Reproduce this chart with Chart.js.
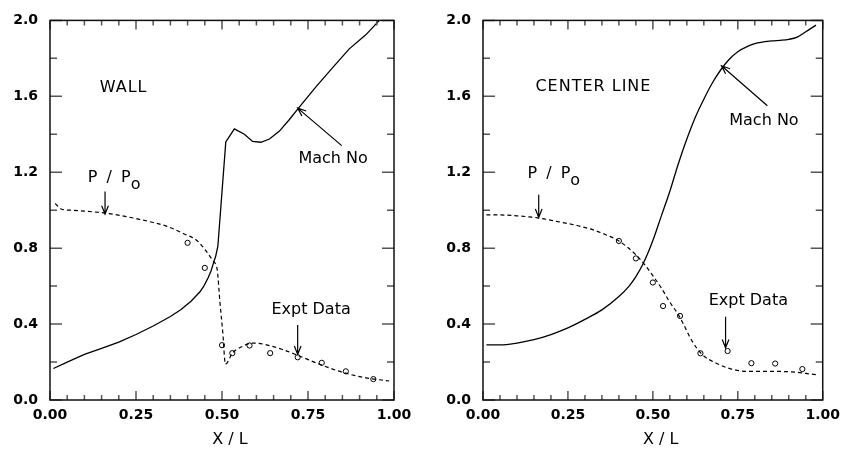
<!DOCTYPE html>
<html>
<head>
<meta charset="utf-8">
<script src="https://cdn.jsdelivr.net/npm/chart.js@4.4.1/dist/chart.umd.min.js"></script>
<style>
html, body { margin: 0; padding: 0; background: #fff; }
#wrap { position: relative; width: 847px; height: 452px; }
#wrap canvas { position: absolute; top: 0; }
#wall { left: 0; }
#center { left: 420px; }
</style>
</head>
<body>
<div id="wrap">
  <canvas id="wall" width="420" height="452"></canvas>
  <canvas id="center" width="427" height="452"></canvas>
</div>
<script>
// measured stations (same x for both traverses)
const exptX = [0.40, 0.45, 0.50, 0.53, 0.58, 0.64, 0.72, 0.79, 0.86, 0.94];
const wallExptY = [0.828, 0.696, 0.289, 0.247, 0.287, 0.247, 0.225, 0.196, 0.151, 0.110];
const centerExptY = [0.838, 0.746, 0.619, 0.495, 0.443, 0.246, 0.258, 0.194, 0.192, 0.163];

// wall: computed Mach number and pressure ratio
const wallMachX = [0.01, 0.05, 0.10, 0.15, 0.20, 0.25, 0.30, 0.35, 0.38, 0.41, 0.436, 0.448, 0.46, 0.468, 0.475,
  0.482, 0.488, 0.511, 0.536, 0.565, 0.589, 0.613, 0.638, 0.667, 0.696, 0.72, 0.773, 0.821, 0.87, 0.918, 0.96];
const wallMachY = [0.166, 0.20, 0.24, 0.272, 0.305, 0.345, 0.39, 0.44, 0.475, 0.52, 0.57, 0.603, 0.645, 0.68, 0.72,
  0.76, 0.81, 1.36, 1.428, 1.40, 1.362, 1.358, 1.375, 1.417, 1.478, 1.533, 1.65, 1.75, 1.85, 1.924, 2.005];
const wallPressX = [0.015, 0.034, 0.06, 0.10, 0.16, 0.21, 0.26, 0.30, 0.34, 0.39, 0.426, 0.455, 0.475, 0.486,
  0.494, 0.502, 0.51, 0.531, 0.56, 0.589, 0.618, 0.676, 0.725, 0.783, 0.85, 0.918, 0.986];
const wallPressY = [1.035, 1.005, 1.0, 0.995, 0.985, 0.97, 0.952, 0.935, 0.915, 0.875, 0.842, 0.782, 0.73, 0.687,
  0.515, 0.361, 0.189, 0.249, 0.283, 0.30, 0.295, 0.266, 0.232, 0.189, 0.146, 0.117, 0.10];

// center line: computed Mach number and pressure ratio
const centerMachX = [0.01, 0.05, 0.10, 0.15, 0.20, 0.25, 0.30, 0.35, 0.40, 0.43, 0.45, 0.472, 0.50, 0.525, 0.55,
  0.575, 0.60, 0.625, 0.65, 0.675, 0.70, 0.725, 0.75, 0.78, 0.80, 0.85, 0.875, 0.90, 0.925, 0.95, 0.98];
const centerMachY = [0.29, 0.29, 0.30, 0.318, 0.345, 0.38, 0.425, 0.475, 0.545, 0.60, 0.65, 0.72, 0.84, 0.97, 1.10,
  1.245, 1.375, 1.49, 1.585, 1.67, 1.74, 1.795, 1.835, 1.864, 1.878, 1.892, 1.895, 1.90, 1.912, 1.94, 1.975];
const centerPressX = [0.01, 0.05, 0.10, 0.16, 0.22, 0.28, 0.33, 0.36, 0.40, 0.425, 0.45, 0.475, 0.50, 0.525, 0.55,
  0.575, 0.59, 0.616, 0.645, 0.683, 0.731, 0.78, 0.856, 0.923, 0.95, 0.985];
const centerPressY = [0.975, 0.975, 0.97, 0.96, 0.94, 0.918, 0.893, 0.872, 0.838, 0.805, 0.765, 0.715, 0.655, 0.59, 0.515,
  0.45, 0.40, 0.309, 0.24, 0.197, 0.163, 0.151, 0.151, 0.146, 0.14, 0.132];

const xTicks = [0, 0.25, 0.5, 0.75, 1.0];
const yTicks = [0, 0.4, 0.8, 1.2, 1.6, 2.0];

const FONT = '"DejaVu Sans", sans-serif';

function pts(xs, ys) {
  return xs.map((x, i) => ({ x: x, y: ys[i] }));
}

function arrow(ctx, x1, y1, x2, y2) {
  const a = Math.atan2(y2 - y1, x2 - x1);
  const h = 9, s = 0.38;
  ctx.beginPath();
  ctx.moveTo(x1, y1);
  ctx.lineTo(x2, y2);
  ctx.moveTo(x2 - h * Math.cos(a - s), y2 - h * Math.sin(a - s));
  ctx.lineTo(x2, y2);
  ctx.lineTo(x2 - h * Math.cos(a + s), y2 - h * Math.sin(a + s));
  ctx.stroke();
}

// box, inward ticks, captions and pointers
const framePlugin = {
  id: 'frame',
  afterDatasetsDraw(chart, args, opts) {
    const { ctx, chartArea: a } = chart;
    const xs = chart.scales.x, ys = chart.scales.y;
    ctx.save();
    ctx.strokeStyle = '#555';
    ctx.lineWidth = 1.5;
    ctx.beginPath();
    for (let i = 0; i <= 10; i++) {
      const py = ys.getPixelForValue(i * 0.2);
      const len = i % 2 === 0 ? 12 : 7;
      ctx.moveTo(a.left, py); ctx.lineTo(a.left + len, py);
      ctx.moveTo(a.right, py); ctx.lineTo(a.right - len, py);
    }
    for (let i = 0; i <= 20; i++) {
      const px = xs.getPixelForValue(i * 0.05);
      const len = i % 5 === 0 ? 9 : 5;
      ctx.moveTo(px, a.bottom); ctx.lineTo(px, a.bottom - len);
      ctx.moveTo(px, a.top); ctx.lineTo(px, a.top + len);
    }
    ctx.stroke();
    ctx.strokeStyle = '#111';
    ctx.strokeRect(a.left, a.top, a.right - a.left, a.bottom - a.top);

    ctx.fillStyle = '#000';
    ctx.font = '16px ' + FONT;
    ctx.textBaseline = 'middle';
    ctx.textAlign = 'center';
    for (const t of opts.texts) {
      ctx.letterSpacing = (t.spacing || 0) + 'px';
      ctx.fillText(t.text, xs.getPixelForValue(t.x), ys.getPixelForValue(t.y));
    }
    // P / Po with subscript
    const px = xs.getPixelForValue(opts.ratio.x), py = ys.getPixelForValue(opts.ratio.y);
    ctx.textAlign = 'left';
    ctx.letterSpacing = '2px';
    ctx.fillText('P / P', px, py);
    const w = ctx.measureText('P / P').width;
    ctx.letterSpacing = '0px';
    ctx.fillText('o', px + w - 2, py + 7);

    ctx.strokeStyle = '#000';
    ctx.lineWidth = 1.2;
    for (const r of opts.arrows) {
      arrow(ctx, xs.getPixelForValue(r[0]), ys.getPixelForValue(r[1]),
        xs.getPixelForValue(r[2]), ys.getPixelForValue(r[3]));
    }

    // axis title
    ctx.textAlign = 'center';
    ctx.fillText('X / L', xs.getPixelForValue(0.523), 440);
    ctx.restore();
  }
};

function makePanel(id, machX, machY, pressX, pressY, exptY, yWidth, padRight, machSmooth, notes) {
  new Chart(document.getElementById(id), {
    type: 'line',
    data: {
      datasets: [
        {
          data: pts(machX, machY),
          borderColor: '#000',
          borderWidth: 1.3,
          pointRadius: 0,
          tension: 0,
          cubicInterpolationMode: machSmooth ? 'monotone' : 'default'
        },
        {
          data: pts(pressX, pressY),
          borderColor: '#000',
          borderWidth: 1.2,
          borderDash: [4, 3],
          pointRadius: 0,
          cubicInterpolationMode: 'monotone'
        },
        {
          data: pts(exptX, exptY),
          showLine: false,
          pointStyle: 'circle',
          pointRadius: 2.6,
          pointBorderWidth: 1,
          pointBorderColor: '#000',
          pointBackgroundColor: 'rgba(0,0,0,0)'
        }
      ]
    },
    options: {
      responsive: false,
      animation: false,
      events: [],
      layout: { padding: { top: 12, right: padRight, left: 0, bottom: 0 } },
      scales: {
        x: {
          type: 'linear',
          min: 0,
          max: 1,
          afterBuildTicks: s => { s.ticks = xTicks.map(v => ({ value: v })); },
          afterFit: s => { s.height = 52; },
          grid: { display: false, drawTicks: false },
          border: { display: false },
          ticks: {
            color: '#000',
            padding: 7,
            maxRotation: 0,
            autoSkip: false,
            font: { family: FONT, size: 14, weight: 'bold' },
            callback: v => Number(v).toFixed(2)
          }
        },
        y: {
          type: 'linear',
          min: 0,
          max: 2,
          afterBuildTicks: s => { s.ticks = yTicks.map(v => ({ value: v })); },
          afterFit: s => { s.width = yWidth; },
          grid: { display: false, drawTicks: false },
          border: { display: false },
          ticks: {
            color: '#000',
            padding: 12,
            autoSkip: false,
            font: { family: FONT, size: 14, weight: 'bold' },
            callback: v => Number(v).toFixed(1)
          }
        }
      },
      plugins: {
        legend: { display: false },
        tooltip: { enabled: false },
        frame: notes
      }
    },
    plugins: [framePlugin]
  });
}

makePanel('wall', wallMachX, wallMachY, wallPressX, wallPressY, wallExptY, 50, 26, false, {
  texts: [
    { text: 'WALL', x: 0.214, y: 1.647, spacing: 1 },
    { text: 'Mach No', x: 0.823, y: 1.27 },
    { text: 'Expt Data', x: 0.759, y: 0.474 }
  ],
  ratio: { x: 0.11, y: 1.168 },
  arrows: [
    [0.16, 1.098, 0.16, 0.979],
    [0.848, 1.34, 0.72, 1.538],
    [0.72, 0.395, 0.72, 0.24]
  ]
});

makePanel('center', centerMachX, centerMachY, centerPressX, centerPressY, centerExptY, 63, 17, true, {
  texts: [
    { text: 'CENTER LINE', x: 0.325, y: 1.65, spacing: 1 },
    { text: 'Mach No', x: 0.827, y: 1.469 },
    { text: 'Expt Data', x: 0.781, y: 0.522 }
  ],
  ratio: { x: 0.131, y: 1.19 },
  arrows: [
    [0.164, 1.082, 0.164, 0.962],
    [0.837, 1.55, 0.702, 1.761],
    [0.714, 0.438, 0.714, 0.275]
  ]
});
</script>
</body>
</html>
